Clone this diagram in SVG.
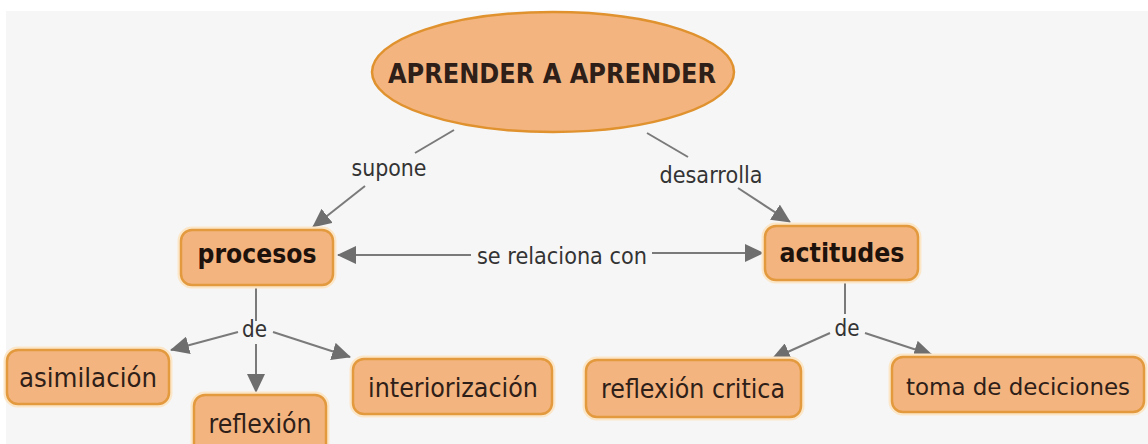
<svg xmlns="http://www.w3.org/2000/svg" width="1148" height="444" viewBox="0 0 1148 444">
<style>
.node{fill:#f4b47f;stroke:#e39a3e;stroke-width:2.5}
.halo{fill:none;stroke:#fbe6c8;stroke-width:7}
.t{font-family:"DejaVu Sans","Verdana",sans-serif;fill:#2e2018;text-anchor:middle}
.nb{font-weight:bold;font-size:26px;fill:#1e120c}
.nr{font-size:26px}
.lab{font-size:23px;fill:#333}
.ln{stroke:#7a7a7a;stroke-width:2;fill:none}
</style>
<defs>
<marker id="ah" markerUnits="userSpaceOnUse" markerWidth="20" markerHeight="18" refX="18" refY="9" orient="auto">
<path d="M0,0 L19,9 L0,18 Z" fill="#6e6e6e"/>
</marker>
</defs>
<rect x="0" y="0" width="1148" height="444" fill="#ffffff"/>
<rect x="6" y="11" width="1142" height="433" fill="#f6f6f6"/>
<g id="connectors">
<line class="ln" x1="454" y1="130" x2="415" y2="153"/>
<line class="ln" x1="365" y1="186" x2="313" y2="227" marker-end="url(#ah)"/>
<line class="ln" x1="647" y1="133" x2="688" y2="157"/>
<line class="ln" x1="738" y1="188" x2="790" y2="222" marker-end="url(#ah)"/>
<line class="ln" x1="471" y1="255" x2="338" y2="255" marker-end="url(#ah)"/>
<line class="ln" x1="652" y1="253" x2="763" y2="253" marker-end="url(#ah)"/>
<line class="ln" x1="256" y1="286" x2="256" y2="321"/>
<line class="ln" x1="238" y1="332" x2="171" y2="350" marker-end="url(#ah)"/>
<line class="ln" x1="256" y1="344" x2="256" y2="392" marker-end="url(#ah)"/>
<line class="ln" x1="273" y1="332" x2="350" y2="357" marker-end="url(#ah)"/>
<line class="ln" x1="845" y1="281" x2="845" y2="314"/>
<line class="ln" x1="830" y1="333" x2="772" y2="359" marker-end="url(#ah)"/>
<line class="ln" x1="865" y1="333" x2="932" y2="355" marker-end="url(#ah)"/>
<text class="t lab" x="389" y="176" textLength="75" lengthAdjust="spacingAndGlyphs">supone</text>
<text class="t lab" x="711" y="183" textLength="103" lengthAdjust="spacingAndGlyphs">desarrolla</text>
<text class="t lab" x="562" y="264" textLength="170" lengthAdjust="spacingAndGlyphs">se relaciona con</text>
<text class="t lab" x="254.5" y="337" textLength="25" lengthAdjust="spacingAndGlyphs">de</text>
<text class="t lab" x="847" y="336" textLength="25" lengthAdjust="spacingAndGlyphs">de</text>
</g>
<g id="n-aprender">
<ellipse cx="553" cy="72" rx="181" ry="60" fill="#f4b47f" stroke="#e0922f" stroke-width="2.5"/>
<text class="t" x="552" y="83" font-size="27" font-weight="bold" fill="#1e120c" textLength="328" lengthAdjust="spacingAndGlyphs">APRENDER A APRENDER</text>
</g>
<g id="n-procesos">
<rect class="halo" x="181" y="230" width="152" height="55" rx="11"/>
<rect class="node" x="181" y="230" width="152" height="55" rx="11"/>
<text class="t nb" x="257" y="263" textLength="119" lengthAdjust="spacingAndGlyphs">procesos</text>
</g>
<g id="n-actitudes">
<rect class="halo" x="765" y="226" width="153" height="54" rx="11"/>
<rect class="node" x="765" y="226" width="153" height="54" rx="11"/>
<text class="t nb" x="842" y="262" textLength="125" lengthAdjust="spacingAndGlyphs">actitudes</text>
</g>
<g id="n-asimilacion">
<rect class="halo" x="7" y="350" width="162" height="54" rx="11"/>
<rect class="node" x="7" y="350" width="162" height="54" rx="11"/>
<text class="t nr" x="88" y="387" textLength="138" lengthAdjust="spacingAndGlyphs">asimilación</text>
</g>
<g id="n-reflexion">
<rect class="halo" x="194" y="395" width="132" height="60" rx="11"/>
<rect class="node" x="194" y="395" width="132" height="60" rx="11"/>
<text class="t nr" x="260" y="433" textLength="103" lengthAdjust="spacingAndGlyphs">reflexión</text>
</g>
<g id="n-interiorizacion">
<rect class="halo" x="353" y="359" width="199" height="55" rx="11"/>
<rect class="node" x="353" y="359" width="199" height="55" rx="11"/>
<text class="t nr" x="453" y="397" textLength="170" lengthAdjust="spacingAndGlyphs">interiorización</text>
</g>
<g id="n-reflexion-critica">
<rect class="halo" x="586" y="360" width="215" height="57" rx="11"/>
<rect class="node" x="586" y="360" width="215" height="57" rx="11"/>
<text class="t nr" x="693" y="398" textLength="184" lengthAdjust="spacingAndGlyphs">reflexión critica</text>
</g>
<g id="n-toma">
<rect class="halo" x="892" y="357" width="252" height="55" rx="11"/>
<rect class="node" x="892" y="357" width="252" height="55" rx="11"/>
<text class="t" x="1018" y="395" font-size="23.5" textLength="224" lengthAdjust="spacingAndGlyphs">toma de deciciones</text>
</g>
</svg>
